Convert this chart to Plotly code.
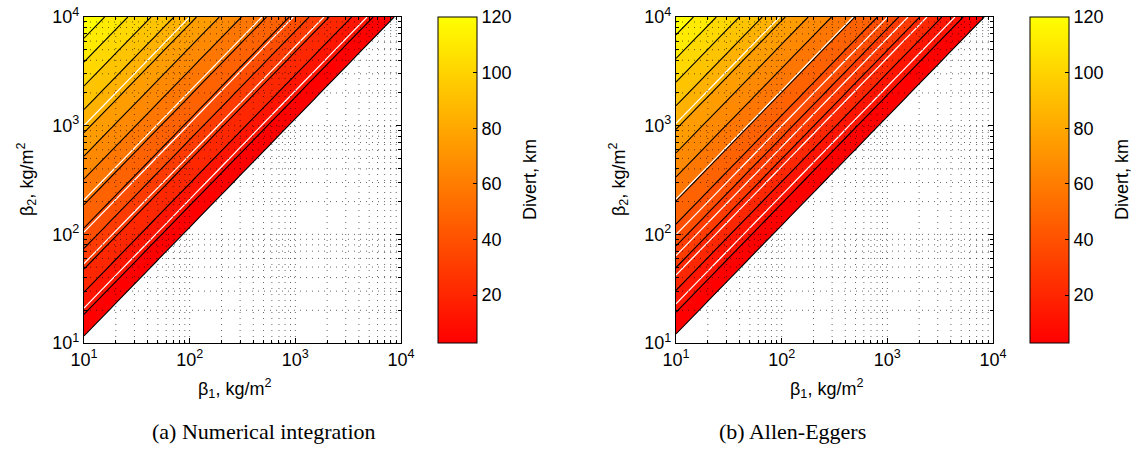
import plotly.graph_objects as go

# ---------------- data ----------------
# grid of ballistic coefficients (kg/m^2), quarter-decade steps
beta = [10, 17.78, 31.62, 56.23, 100, 177.8, 316.2, 562.3,
        1000, 1778, 3162, 5623, 10000]

# divert distance (km) as read along beta2/beta1 = 1, 10^0.25, ..., 10^3
divert_a = [-2.8, 8.0, 18.5, 28.5, 40.5, 50.6, 59.6, 69.8, 79.7, 89.8, 99.5, 109.3, 119.0]
divert_b = [-3.6, 7.2, 17.8, 28.0, 39.0, 49.2, 58.9, 68.6, 78.5, 88.3, 98.2, 108.0, 118.0]
blank_value = -20.0          # beta2 < beta1 : no divert (white)

n_levels = 14
level_step = 120.0 / n_levels
white_levels_a = [11.0, 27.7, 41.3, 53.0, 79.7]
white_levels_b = [11.9, 22.9, 30.4, 38.9, 52.1, 79.3]

cbar_range = [2.8, 120.0]
cbar_ticks = [20, 40, 60, 80, 100, 120]
axis_ticks = [10, 100, 1000, 10000]
axis_ticktext = ["10<sup>1</sup>", "10<sup>2</sup>", "10<sup>3</sup>", "10<sup>4</sup>"]
minor_ticks = [20, 30, 40, 50, 60, 70, 80, 90,
               200, 300, 400, 500, 600, 700, 800, 900,
               2000, 3000, 4000, 5000, 6000, 7000, 8000, 9000]
captions = ["(a) Numerical integration", "(b) Allen-Eggers"]
xlabel = "β<sub>1</sub>, kg/m<sup>2</sup>"
ylabel = "β<sub>2</sub>, kg/m<sup>2</sup>"
cbar_title = "Divert, km"

# ---------------- layout geometry (page pixels) ----------------
W, H = 1144, 455
panels = [
    dict(x0=84, x1=401, cb=438, div=divert_a, whites=white_levels_a, cap=captions[0], capx=264),
    dict(x0=676, x1=993, cb=1030, div=divert_b, whites=white_levels_b, cap=captions[1], capx=792),
]
ytop, ybot = 17, 343

def px(x):
    return x / W

def py(y):
    return (H - y) / H

FONT = "Liberation Sans"
FS = 18
fill_scale = [[0, "rgb(255,255,255)"], [1.0 / n_levels, "rgb(255,0,0)"], [1, "rgb(255,255,0)"]]
bar_scale = [[0, "rgb(255,0,0)"], [1, "rgb(255,255,0)"]]

fig = go.Figure()
shapes = []
annotations = []
layout_axes = {}

for p_i, p in enumerate(panels):
    sfx = "" if p_i == 0 else str(p_i + 1)
    xa, ya = "x" + sfx, "y" + sfx
    div = p["div"]
    n = len(beta)
    Z = [[div[i - j] if i >= j else blank_value for j in range(n)] for i in range(n)]

    fig.add_trace(go.Contour(
        x=beta, y=beta, z=Z, xaxis=xa, yaxis=ya,
        autocontour=False,
        contours=dict(start=0, end=(n_levels - 1) * level_step, size=level_step,
                      coloring="fill", showlines=True),
        line=dict(color="black", width=1.1),
        colorscale=fill_scale, showscale=False, hoverinfo="skip",
    ))
    for w in p["whites"]:
        fig.add_trace(go.Contour(
            x=beta, y=beta, z=Z, xaxis=xa, yaxis=ya,
            autocontour=False,
            contours=dict(start=w, end=w, size=1, coloring="none", showlines=True),
            line=dict(color="white", width=1.2),
            showscale=False, hoverinfo="skip",
        ))
    # continuous colorbar
    fig.add_trace(go.Scatter(
        x=[None, None], y=[None, None], xaxis=xa, yaxis=ya, mode="markers",
        showlegend=False, hoverinfo="skip",
        marker=dict(color=cbar_range, cmin=cbar_range[0], cmax=cbar_range[1],
                    colorscale=bar_scale, showscale=True,
                    colorbar=dict(
                        x=px(p["cb"]), xanchor="left", xpad=0, ypad=0,
                        y=py((ytop + ybot) / 2), yanchor="middle",
                        len=ybot - ytop, lenmode="pixels",
                        thickness=39, thicknessmode="pixels",
                        outlinecolor="black", outlinewidth=1,
                        tickvals=cbar_ticks, ticks="inside", ticklen=4, tickcolor="black",
                        ticklabeloverflow="allow",
                        tickfont=dict(family=FONT, size=FS, color="black"),
                    )),
    ))

    common = dict(type="log", range=[1, 4], tickvals=axis_ticks, ticktext=axis_ticktext,
                  ticks="inside", ticklen=5, tickcolor="black", tickwidth=1,
                  showline=True, linecolor="black", linewidth=1.2, mirror="ticks",
                  showgrid=False, zeroline=False, automargin=False,
                  ticklabeloverflow="allow",
                  tickfont=dict(family=FONT, size=FS, color="black"),
                  minor=dict(tickvals=minor_ticks, ticks="inside", ticklen=3,
                             tickcolor="black", showgrid=False))
    layout_axes["xaxis" + sfx] = dict(common, domain=[px(p["x0"]), px(p["x1"])], anchor=ya)
    layout_axes["yaxis" + sfx] = dict(common, domain=[py(ybot), py(ytop)], anchor=xa)

    # dotted grid above the filled contours
    gstyle = dict(color="rgba(0,0,0,0.6)", width=1, dash="1px,5px")
    for v in minor_ticks + axis_ticks[1:-1]:
        shapes.append(dict(type="line", xref=xa, yref=ya, x0=v, x1=v,
                           y0=axis_ticks[0], y1=axis_ticks[-1], line=gstyle, layer="above"))
        shapes.append(dict(type="line", xref=xa, yref=ya, y0=v, y1=v,
                           x0=axis_ticks[0], x1=axis_ticks[-1], line=gstyle, layer="above"))

    cx = (p["x0"] + p["x1"]) / 2
    annotations.append(dict(text=xlabel, x=px(cx - 8), y=py(388), xref="paper", yref="paper",
                            showarrow=False, xanchor="center", yanchor="middle",
                            font=dict(family=FONT, size=FS, color="black")))
    annotations.append(dict(text=ylabel, x=px(p["x0"] - 58), y=py((ytop + ybot) / 2),
                            xref="paper", yref="paper", textangle=-90,
                            showarrow=False, xanchor="center", yanchor="middle",
                            font=dict(family=FONT, size=FS, color="black")))
    annotations.append(dict(text=cbar_title, x=px(p["cb"] + 92), y=py((ytop + ybot) / 2),
                            xref="paper", yref="paper", textangle=-90,
                            showarrow=False, xanchor="center", yanchor="middle",
                            font=dict(family=FONT, size=FS, color="black")))
    annotations.append(dict(text=p["cap"], x=px(p["capx"]), y=py(431), xref="paper", yref="paper",
                            showarrow=False, xanchor="center", yanchor="middle",
                            font=dict(family="Liberation Serif", size=22, color="black")))

fig.update_layout(
    width=W, height=H, margin=dict(l=0, r=0, t=0, b=0),
    paper_bgcolor="white", plot_bgcolor="white",
    showlegend=False, shapes=shapes, annotations=annotations,
    **layout_axes,
)

fig.write_html("out.html", config={"displayModeBar": False},
               post_script="document.body.style.margin='0';document.body.style.overflow='hidden';")
